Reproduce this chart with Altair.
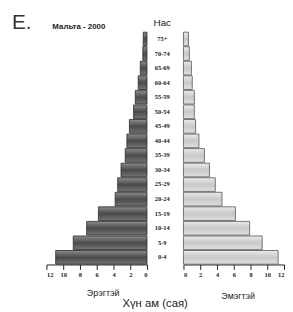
import altair as alt
import pandas as pd

ages = ["0-4", "5-9", "10-14", "15-19", "20-24", "25-29", "30-34", "35-39",
        "40-44", "45-49", "50-54", "55-59", "60-64", "65-69", "70-74", "75+"]
male = [10.9, 8.8, 7.2, 5.8, 3.8, 3.5, 3.1, 2.6, 2.4, 2.1, 1.6, 1.4, 1.05, 0.8, 0.5, 0.45]
female = [11.3, 9.4, 7.9, 6.2, 4.6, 3.8, 3.1, 2.5, 1.85, 1.45, 1.3, 1.3, 1.05, 0.95, 0.7, 0.6]
ticks = [0, 2, 4, 6, 8, 10, 12]

df = pd.DataFrame({"age": ages, "male": male, "female": female})
order = list(reversed(ages))

W, H = 102, 236
MID = 35

dark = alt.LinearGradient(
    gradient="linear", x1=0, x2=0, y1=0, y2=1,
    stops=[alt.GradientStop(color="#8c8c8c", offset=0),
           alt.GradientStop(color="#4a4a4a", offset=0.5),
           alt.GradientStop(color="#747474", offset=1)])
light = alt.LinearGradient(
    gradient="linear", x1=0, x2=0, y1=0, y2=1,
    stops=[alt.GradientStop(color="#eaeaea", offset=0),
           alt.GradientStop(color="#c8c8c8", offset=0.5),
           alt.GradientStop(color="#e0e0e0", offset=1)])

yenc = alt.Y("age:N", sort=order, axis=None,
             scale=alt.Scale(paddingInner=0.06, paddingOuter=0.02))

axis_common = dict(values=ticks, grid=False, domainColor="#222", tickColor="#222",
                   labelFontSize=6.5, labelFont="Liberation Sans Narrow", labelFontWeight="bold",
                   labelColor="#222", tickSize=5, titleFontSize=9, titleFontWeight="normal",
                   titleFont="Liberation Sans", titleColor="#222", labelPadding=2)

left_bars = alt.Chart(df).mark_bar(color=dark, stroke="#2a2a2a", strokeWidth=0.8).encode(
    x=alt.X("male:Q", scale=alt.Scale(domain=[0, 12], reverse=True, nice=False),
            axis=alt.Axis(title="Эрэгтэй", titlePadding=11, titleX=57, **axis_common)),
    y=yenc,
)

tag = pd.DataFrame({"t": ["E."]})
sub = pd.DataFrame({"t": ["Мальта - 2000"]})
e_text = alt.Chart(tag).mark_text(align="left", baseline="alphabetic", fontSize=21,
                                  font="Liberation Sans", color="#333").encode(
    text="t:N", x=alt.value(-35), y=alt.value(-3))
s_text = alt.Chart(sub).mark_text(align="left", baseline="middle", fontSize=8,
                                  font="Liberation Sans", fontWeight="bold", color="#222").encode(
    text="t:N", x=alt.value(6), y=alt.value(-5))

left = alt.layer(left_bars, e_text, s_text).properties(width=W, height=H)

mid = alt.Chart(df).mark_text(fontSize=6.5, font="Liberation Sans Narrow", fontWeight="bold",
                              color="#222").encode(
    y=yenc, text="age:N", x=alt.value(MID / 2 - 3),
).properties(width=MID, height=H,
             title=alt.TitleParams("Нас", fontSize=10, fontWeight="normal",
                                   font="Liberation Sans", color="#222", offset=4, dx=-3))

right = alt.Chart(df).mark_bar(color=light, stroke="#555", strokeWidth=0.8).encode(
    x=alt.X("female:Q", scale=alt.Scale(domain=[0, 12], nice=False),
            axis=alt.Axis(title="Эмэгтэй", titlePadding=14, titleX=55, **axis_common)),
    y=yenc,
).properties(width=W, height=H)

chart = alt.hconcat(left, mid, right, spacing=0).properties(
    title=alt.TitleParams("Хүн ам (сая)", orient="bottom", fontSize=11.5, fontWeight="normal",
                          font="Liberation Sans", color="#222", offset=-2, anchor="middle", dx=7),
    padding={"left": 4, "top": 2, "right": 0, "bottom": 0},
    background="white",
).configure_view(stroke=None)

chart.save("out.html", embed_options={"renderer": "svg", "actions": False})
